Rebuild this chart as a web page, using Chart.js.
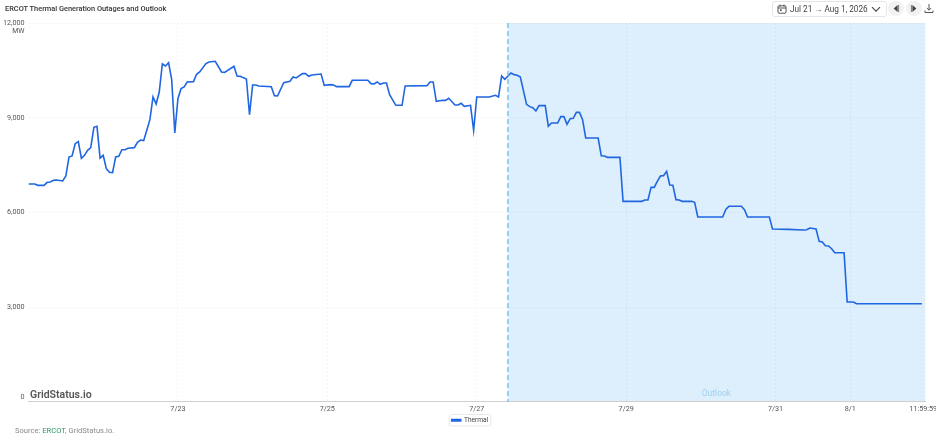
<!DOCTYPE html>
<html>
<head>
<meta charset="utf-8">
<title>ERCOT Thermal Generation Outages and Outlook</title>
<script src="https://cdn.jsdelivr.net/npm/chart.js@4"></script>
<style>
  html, body { margin: 0; padding: 0; background: #fff; }
  body { width: 936px; height: 436px; position: relative; overflow: hidden; font-family: Roboto, "Noto Sans", sans-serif; }
  #chart { position: absolute; left: 0; top: 0; }
  .title { position: absolute; left: 5px; top: 3px; font-size: 7.4px; line-height: 11px; font-weight: 500; color: #333; white-space: nowrap; }
  .picker { position: absolute; left: 772px; top: 1px; width: 113px; height: 14px; border: 1px solid #e6e6e6; border-radius: 3px; box-sizing: content-box; }
  .picker span { position: absolute; left: 17px; top: 1px; font-size: 8.2px; line-height: 13px; color: #444; white-space: nowrap; }
  .picker svg { position: absolute; }
  .nav { position: absolute; top: 1px; width: 16px; height: 15px; border-radius: 8px; background: #f2f2f2; }
  .nav svg { display: block; }
  .dl { position: absolute; left: 924px; top: 3px; }
  .source { position: absolute; left: 15px; top: 425px; font-size: 7.6px; line-height: 11px; color: #8a8a8a; white-space: nowrap; }
  .source b { font-weight: 400; color: #2f9a68; }
</style>
</head>
<body>
<canvas id="chart" width="936" height="436"></canvas>
<div class="title">ERCOT Thermal Generation Outages and Outlook</div>
<div class="picker">
  <svg style="left:4px;top:2px" width="10" height="10" viewBox="0 0 10 10" fill="none" stroke="#444" stroke-width="0.9">
    <rect x="1" y="1.8" width="8" height="7.4" rx="1"/><path d="M1 4h8M3 .6v2M7 .6v2"/><rect x="3" y="5.4" width="1.6" height="1.6" fill="#444" stroke="none"/>
  </svg>
  <span>Jul 21 → Aug 1, 2026</span>
  <svg style="left:98px;top:4px" width="10" height="7" viewBox="0 0 10 7" fill="none" stroke="#444" stroke-width="1.1"><path d="M1 1.2l4 4 4-4"/></svg>
</div>
<div class="nav" style="left:888px"><svg width="16" height="15" viewBox="0 0 16 15"><path d="M9.6 4v7L5.6 7.5z" fill="#444"/><path d="M10.6 4v7" stroke="#444" stroke-width="0.7"/></svg></div>
<div class="nav" style="left:906px"><svg width="16" height="15" viewBox="0 0 16 15"><path d="M6.4 4v7l4-3.5z" fill="#444"/><path d="M5.4 4v7" stroke="#444" stroke-width="0.7"/></svg></div>
<svg class="dl" width="10" height="11" viewBox="0 0 10 11" fill="none" stroke="#444" stroke-width="0.9"><path d="M5 1v6M2.8 5L5 7.2 7.2 5M1 7.5V9.5h8V7.5"/></svg>
<div class="source">Source: <b>ERCOT</b>, GridStatus.io.</div>

<script>
// hours since Jul 21 00:00
const hours = [0,2,3,5,6,7,8,9,11,12,13,14,15,16,17,18,19,20,21,22,23,24,25,26,27,28,29,30,31,32,34,35,36,37,38,39,40,41,42,43,44,45,46,47,48,49,50,51,53,54,55,57,58,60,62,63,66,67,68,70,71,72,73,74,78,79,80,82,84,85,86,88,89,90,91,94,95,97,98,99,103,104,109,110,111,112,113,114,115,116,118,120,121,128,129,130,131,133,134,135,137,138,139,140,142,143,144,148,150,151,152,153,155,156,157,158,160,161,162,163,164,166,167,168,170,171,172,173,174,175,176,177,178,179,183,184,185,186,190,191,197,198,199,200,201,202,203,204,205,206,207,208,209,210,213,214,215,223,224,225,229,230,231,238,239,244,249,250,251,253,254,255,256,257,258,259,262,263,265,266,287];
// thermal outages, MW
const thermal = [6900,6900,6858,6858,6953,6964,7017,7027,6996,7153,7756,7788,8178,8242,7714,7809,7967,8052,8696,8728,7724,7809,7386,7270,7260,7756,7777,7988,7988,8031,8052,8221,8295,8274,8601,8939,9657,9435,9815,10702,10639,10744,10206,8516,9604,9921,9973,10132,10142,10375,10449,10713,10765,10787,10449,10438,10628,10322,10311,10227,9097,10037,10037,10005,9984,9699,9689,10111,10153,10290,10259,10396,10396,10311,10353,10385,10026,10048,10037,9984,9984,10185,10185,10079,10069,10132,10058,10100,10100,9731,9393,9393,10005,10016,10132,10132,9520,9551,9551,9615,9403,9403,9456,9361,9393,8601,9657,9657,9710,9657,10322,10216,10417,10364,10343,10290,9424,9351,9319,9213,9382,9382,8728,8833,8833,9034,9034,8791,8970,8981,9171,9171,8939,8358,8358,7798,7788,7745,7745,6352,6352,6394,6394,6795,6795,6986,7154,7165,7302,6869,6859,6405,6394,6352,6352,6320,5856,5856,6098,6194,6194,6088,5856,5856,5475,5465,5444,5454,5507,5475,5085,5064,4947,4937,4852,4726,4726,3163,3163,3110,3110];

const xTickHours = [48,96,144,192,240,264,288];
const xTickLabels = ['7/23','7/25','7/27','7/29','7/31','8/1','11:59:59'];
const yTickValues = [0,3000,6000,9000,12000];
const yTickLabels = ['0','3,000','6,000','9,000','12,000'];
const outlookStart = 154;
const xEnd = 288;

const FONT = 'Roboto, "Noto Sans", sans-serif';

// blue band behind the grid for the forecast part
const outlookBand = {
    id: 'outlookBand',
    beforeDraw(chart) {
        const { ctx, chartArea, scales } = chart;
        const x0 = scales.x.getPixelForValue(outlookStart);
        ctx.save();
        ctx.fillStyle = '#ddeffc';
        ctx.fillRect(x0, chartArea.top, scales.x.getPixelForValue(xEnd) - x0, chartArea.bottom - chartArea.top);
        ctx.restore();
    },
    afterDatasetsDraw(chart) {
        const { ctx, chartArea, scales } = chart;
        const x0 = scales.x.getPixelForValue(outlookStart);
        ctx.save();
        ctx.strokeStyle = '#7cc6ee';
        ctx.lineWidth = 1.5;
        ctx.setLineDash([5, 3]);
        ctx.beginPath();
        ctx.moveTo(x0, chartArea.top);
        ctx.lineTo(x0, chartArea.bottom);
        ctx.stroke();
        ctx.setLineDash([]);
        ctx.textBaseline = 'middle';
        ctx.textAlign = 'center';
        ctx.fillStyle = '#9ed0f2';
        ctx.font = '8.5px ' + FONT;
        ctx.fillText('Outlook', (x0 + scales.x.getPixelForValue(xEnd)) / 2, chartArea.bottom - 8);
        ctx.textAlign = 'left';
        ctx.fillStyle = '#555';
        ctx.font = '600 10.5px ' + FONT;
        ctx.fillText('GridStatus.io', chartArea.left + 1.5, chartArea.bottom - 7);
        ctx.fillStyle = '#555';
        ctx.font = '7px ' + FONT;
        ctx.textAlign = 'right';
        ctx.fillText('MW', chartArea.left - 4, chartArea.top + 8);
        ctx.restore();
    },
    afterDraw(chart) {
        // border round the legend item only
        const box = chart.legend.legendHitBoxes[0];
        const { ctx } = chart;
        ctx.save();
        ctx.strokeStyle = '#e8e8e8';
        ctx.lineWidth = 1;
        ctx.beginPath();
        ctx.roundRect(box.left - 2.5, box.top - 2.5, box.width + 5, box.height + 5, 2);
        ctx.stroke();
        ctx.restore();
    }
};

const chart = new Chart(document.getElementById('chart').getContext('2d'), {
    type: 'line',
    data: {
        datasets: [{
            label: 'Thermal',
            data: hours.map((h, i) => ({ x: h, y: thermal[i] })),
            borderColor: '#1f66e0',
            backgroundColor: '#1f66e0',
            borderWidth: 1.6,
            pointRadius: 0,
            tension: 0
        }]
    },
    options: {
        responsive: false,
        animation: false,
        layout: { padding: { left: 4, right: 0, top: 23, bottom: 2.5 } },
        plugins: {
            tooltip: { enabled: false },
            legend: {
                position: 'bottom',
                labels: {
                    boxWidth: 9,
                    boxHeight: 1.5,
                    padding: 4,
                    color: '#444',
                    font: { size: 6.6, family: FONT }
                }
            }
        },
        scales: {
            x: {
                type: 'linear',
                min: 0,
                max: xEnd,
                afterBuildTicks(axis) {
                    axis.ticks = xTickHours.map(v => ({ value: v }));
                },
                afterFit(axis) {
                    axis.height = 11;
                    // fixed gap right of the plot, last label hangs into it
                    axis.paddingRight = 11;
                },
                grid: { color: 'rgba(0,0,0,0.04)', drawTicks: false, lineWidth: 1 },
                border: { color: '#cfcfcf', dash: [2, 2] },
                ticks: {
                    autoSkip: false,
                    maxRotation: 0,
                    padding: 3,
                    color: '#555',
                    font: { size: 7.2, family: FONT },
                    // trailing spaces pull the end label back inside the page
                    callback: value => {
                        const i = xTickHours.indexOf(value);
                        return i === xTickHours.length - 1 ? xTickLabels[i] + '\u00a0\u00a0' : xTickLabels[i];
                    }
                }
            },
            y: {
                min: 0,
                max: 12000,
                afterBuildTicks(axis) {
                    axis.ticks = yTickValues.map(v => ({ value: v }));
                },
                afterFit(axis) { axis.width = 24.5; },
                grid: { color: 'rgba(0,0,0,0.04)', drawTicks: false },
                border: { display: false, dash: [2, 2] },
                ticks: {
                    padding: 4,
                    color: '#555',
                    font: { size: 7.2, family: FONT },
                    // empty second line lifts the 0 off the axis line
                    callback: value => value === 0 ? ['0', ''] : yTickLabels[yTickValues.indexOf(value)]
                }
            }
        }
    },
    plugins: [outlookBand]
});
</script>
</body>
</html>
